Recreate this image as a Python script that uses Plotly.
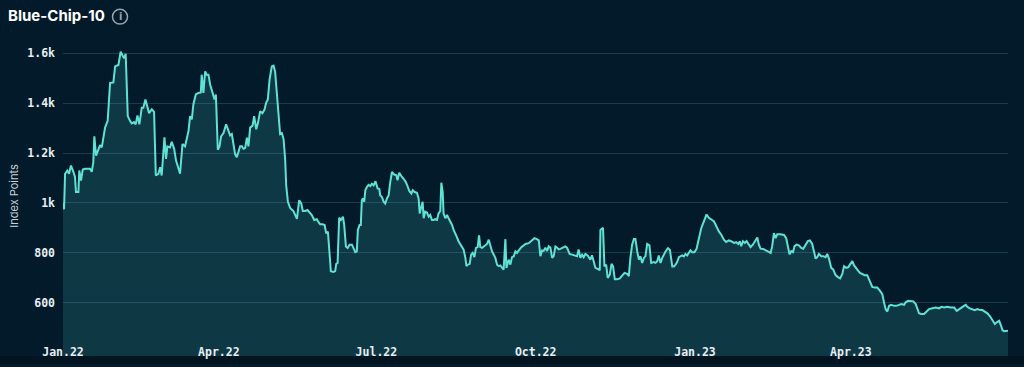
import pandas as pd
import plotly.graph_objects as go

# ---- data ----
start_date = "2022-01-01"
end_date = "2023-06-30 19:00"

days = [
    0.0, 0.6, 1.2, 2.5, 3.5, 4.6, 6.0, 6.9, 7.5, 8.9, 9.4, 10.4, 11.4, 12.7, 15.6, 16.6, 17.5, 18.1, 19.1, 20.4,
    21.4, 22.4, 23.3, 24.3, 25.8, 27.2, 29.1, 30.1, 32.0, 33.3, 34.5, 35.3, 36.2, 37.4, 38.7, 39.7, 41.0, 42.0,
    43.0, 44.1, 45.5, 46.4, 47.6, 48.7, 49.7, 51.3, 52.6, 53.6, 55.1, 56.1, 57.0, 58.6, 59.5, 60.3, 61.8, 62.8,
    64.2, 65.3, 66.7, 67.6, 69.0, 70.5, 72.5, 73.4, 74.4, 75.3, 76.7, 78.2, 79.6, 80.1, 81.1, 82.1, 83.0, 84.0,
    85.0, 86.3, 87.5, 88.3, 89.4, 90.4, 91.3, 92.7, 94.2, 95.6, 96.5, 97.5, 98.5, 99.4, 100.4, 101.3, 102.3,
    103.3, 104.2, 105.2, 106.2, 107.1, 108.1, 109.5, 110.4, 111.6, 112.5, 113.9, 115.2, 116.4, 117.3, 118.3,
    119.3, 120.6, 121.6, 122.5, 123.5, 124.5, 125.4, 126.4, 127.4, 128.3, 128.9, 129.9, 131.2, 133.1, 134.1,
    135.1, 136.4, 137.6, 138.5, 139.9, 141.2, 142.4, 143.7, 145.1, 146.6, 147.6, 148.5, 149.9, 151.1, 152.0,
    153.0, 154.0, 154.7, 156.3, 157.2, 157.8, 158.6, 159.5, 160.5, 161.1, 161.7, 162.4, 163.4, 164.4, 165.5,
    166.9, 167.8, 168.8, 169.7, 170.3, 171.3, 172.0, 172.6, 173.2, 174.0, 174.6, 175.5, 176.5, 177.5, 178.4,
    179.4, 180.5, 181.7, 182.7, 183.2, 184.2, 185.2, 186.1, 187.1, 188.1, 189.0, 190.0, 191.3, 192.5, 193.2,
    194.2, 195.4, 196.7, 197.7, 198.7, 200.0, 201.2, 202.0, 203.1, 204.4, 205.4, 206.0, 206.7, 207.7, 208.3,
    209.2, 210.2, 211.2, 212.1, 213.1, 214.1, 215.0, 216.0, 216.9, 217.9, 218.5, 219.3, 219.8, 220.8, 221.8,
    222.7, 223.7, 224.7, 225.6, 226.6, 227.5, 228.5, 229.5, 230.4, 231.4, 232.4, 233.0, 233.9, 234.9, 235.7,
    236.6, 237.6, 238.5, 239.5, 240.3, 241.0, 242.0, 243.0, 243.9, 244.9, 245.9, 246.8, 247.8, 248.8, 249.7,
    250.7, 251.7, 252.6, 253.6, 254.5, 255.5, 256.1, 257.4, 258.4, 259.3, 260.3, 261.3, 262.2, 263.6, 264.7,
    266.1, 267.1, 269.0, 270.9, 272.3, 273.4, 274.8, 275.7, 276.7, 277.6, 278.6, 279.6, 280.5, 281.5, 282.5,
    283.4, 284.4, 285.4, 286.3, 287.3, 288.8, 290.1, 291.1, 292.6, 294.0, 295.4, 296.9, 297.8, 298.8, 299.8,
    300.7, 301.7, 303.0, 304.6, 305.5, 306.5, 307.5, 309.4, 310.0, 310.4, 311.9, 312.7, 313.7, 314.6, 315.8,
    316.8, 317.7, 318.7, 320.0, 321.6, 322.9, 324.3, 325.8, 326.8, 327.7, 328.7, 329.7, 330.6, 331.6, 332.6,
    333.5, 334.5, 335.5, 336.4, 337.4, 338.7, 339.7, 341.2, 342.2, 343.2, 344.1, 345.1, 346.1, 347.0, 348.0,
    349.4, 350.5, 351.9, 352.8, 353.8, 354.7, 355.7, 357.6, 358.6, 359.5, 360.5, 361.5, 362.4, 363.4, 364.7,
    365.9, 367.3, 368.6, 370.1, 371.7, 373.0, 374.4, 375.9, 377.5, 378.8, 380.2, 381.7, 383.0, 384.6, 385.9,
    387.5, 388.8, 390.0, 390.9, 391.7, 392.7, 393.8, 394.8, 396.1, 397.1, 398.4, 400.0, 401.0, 401.9, 402.9,
    404.4, 405.8, 407.1, 408.7, 409.6, 410.6, 411.6, 412.5, 414.4, 416.4, 417.7, 418.7, 419.6, 420.6, 421.6,
    422.5, 423.7, 425.0, 426.4, 427.5, 428.9, 430.2, 431.4, 432.7, 433.7, 434.7, 435.6, 436.6, 437.9, 439.1,
    440.4, 441.4, 442.4, 443.7, 444.9, 446.2, 447.6, 448.8, 450.1, 451.1, 452.4, 453.6, 454.5, 455.9, 456.8,
    457.8, 459.1, 460.3, 461.7, 463.0, 464.5, 465.5, 466.5, 467.4, 468.8, 470.3, 471.9, 473.2, 474.2, 475.1,
    476.1, 477.1, 478.4, 480.0, 481.3, 482.9, 484.2, 485.8, 486.7, 488.1, 489.6, 491.1, 492.5, 493.4, 494.4,
    495.7, 497.3, 498.8, 500.2, 502.1, 504.0, 506.0, 507.3, 508.9, 510.8, 512.7, 514.7, 516.2, 517.5, 518.9,
    520.4, 521.4, 522.3, 523.7, 525.2, 526.6, 528.1, 529.7, 531.0, 532.4, 533.9, 535.5, 536.8, 538.2, 539.3,
    540.7, 541.6, 542.6, 543.5, 544.5, 545.8,
]

index_points = [
    1000, 975, 1117, 1130, 1117, 1150, 1125, 1104, 1044, 1044, 1130, 1090, 1134, 1137, 1137, 1125, 1163, 1267, 1190, 1215,
    1232, 1223, 1265, 1302, 1329, 1481, 1483, 1547, 1553, 1606, 1590, 1580, 1598, 1348, 1329, 1319, 1324, 1315,
    1351, 1315, 1382, 1382, 1415, 1390, 1360, 1375, 1365, 1110, 1117, 1143, 1110, 1263, 1177, 1227, 1223, 1245,
    1217, 1170, 1130, 1117, 1236, 1227, 1289, 1348, 1335, 1395, 1435, 1441, 1443, 1514, 1441, 1527, 1514, 1514,
    1474, 1441, 1415, 1435, 1213, 1227, 1267, 1280, 1315, 1289, 1271, 1276, 1236, 1196, 1183, 1203, 1227,
    1227, 1217, 1220, 1262, 1227, 1302, 1310, 1348, 1295, 1318, 1368, 1360, 1375, 1401, 1415,
    1494, 1547, 1550, 1527, 1441, 1335, 1276, 1280, 1255, 1177, 1071, 1005, 980, 968, 950,
    936, 1011, 998, 968, 968, 972, 962, 952, 932, 935, 923, 915, 915, 912, 879,
    885, 793, 727, 724, 727, 756, 760, 941, 932, 938, 945, 912, 826, 820, 833,
    833, 820, 803, 806, 892, 912, 912, 1011, 1018, 1005, 1051, 1064, 1073, 1068, 1077,
    1071, 1087, 1058, 1056, 1031, 1024, 1005, 998, 1018, 1031, 1084, 1124, 1114, 1111, 1091,
    1121, 1108, 1097, 1088, 1073, 1048, 1038, 1051, 1044, 1041, 1018, 958, 978, 1005, 939,
    965, 962, 945, 952, 932, 932, 935, 932, 958, 968, 1081, 1044, 958, 939, 952,
    939, 925, 912, 892, 879, 863, 846, 833, 820, 813, 780, 747, 753, 756, 793,
    800, 783, 820, 823, 870, 823, 820, 826, 830, 836, 853, 826, 806, 793, 780,
    753, 747, 750, 743, 733, 855, 740, 773, 753, 783, 786, 806, 800, 813, 823,
    830, 836, 839, 853, 859, 856, 850, 787, 810, 808, 821, 808, 826, 821, 780,
    787, 826, 821, 814, 816, 823, 826, 821, 796, 793, 790, 787, 814, 780, 793,
    783, 796, 790, 773, 790, 767, 740, 734, 730, 892, 901, 746, 753, 700, 713,
    756, 746, 694, 694, 698, 707, 720, 716, 707, 780, 833, 856, 856, 808, 773,
    787, 760, 780, 787, 836, 830, 760, 763, 760, 767, 790, 760, 780, 793, 806,
    819, 813, 746, 746, 753, 763, 783, 790, 786, 796, 790, 803, 810, 803, 803,
    816, 861, 899, 925, 954, 941, 935, 927, 905, 886, 873, 853, 844, 850, 847,
    840, 843, 836, 847, 827, 847, 840, 847, 836, 823, 833, 850, 862, 833, 817,
    816, 810, 806, 800, 827, 879, 859, 875, 875, 872, 859, 827, 794, 807, 803,
    827, 833, 830, 820, 817, 833, 847, 850, 836, 807, 777, 783, 796, 787, 787,
    783, 796, 777, 740, 733, 711, 703, 698, 716, 747, 740, 743, 753, 767, 751,
    740, 730, 720, 714, 711, 711, 694, 681, 664, 661, 661, 648, 635, 601, 575,
    565, 588, 592, 588, 588, 592, 595, 592, 602, 608, 606, 606, 595, 575, 558,
    555, 555, 565, 575, 578, 581, 578, 584, 581, 584, 581, 581, 568, 575, 581,
    588, 592, 584, 578, 575, 571, 575, 571, 571, 565, 558, 545, 531, 515, 522,
    528, 512, 491, 486, 488, 488,
]

tick_dates = ["2022-01-01", "2022-04-01", "2022-07-01", "2022-10-01", "2023-01-01", "2023-04-01"]
tick_labels = ["Jan.22", "Apr.22", "Jul.22", "Oct.22", "Jan.23", "Apr.23"]
y_ticks = [600, 800, 1000, 1200, 1400, 1600]
y_tick_labels = ["600", "800", "1k", "1.2k", "1.4k", "1.6k"]
y_range = [387, 1669]

dates = pd.Timestamp(start_date) + pd.to_timedelta(days, unit="D")

BG = "#031a2b"
LINE = "#5fe2d3"
GRID = "#1b3c50"

fig = go.Figure(
    go.Scatter(
        x=dates,
        y=index_points,
        mode="lines",
        line=dict(color=LINE, width=2),
        fill="tozeroy",
        fillcolor="rgba(80,205,200,0.17)",
        hoverinfo="skip",
    )
)

fig.update_layout(
    width=1024,
    height=367,
    margin=dict(l=63, r=16, t=36, b=8),
    paper_bgcolor=BG,
    plot_bgcolor=BG,
    showlegend=False,
    title=dict(
        text="<b>Blue-Chip-10</b>",
        x=8 / 1024,
        xanchor="left",
        xref="container",
        y=1 - 16 / 367,
        yanchor="middle",
        yref="container",
        font=dict(family="Inter", size=15, color="#ffffff"),
    ),
    xaxis=dict(
        type="date",
        range=[start_date, end_date],
        tickvals=tick_dates,
        ticktext=tick_labels,
        showgrid=False,
        zeroline=False,
        showline=False,
        ticks="",
        ticklabelposition="inside",
        ticklabeloverflow="allow",
        ticklabelstandoff=-5,
        tickfont=dict(family="DejaVu Sans Mono", size=11.5, color="#e8eef2", weight="bold"),
        fixedrange=True,
    ),
    yaxis=dict(
        range=y_range,
        tickvals=y_ticks,
        ticktext=y_tick_labels,
        showgrid=True,
        gridcolor=GRID,
        gridwidth=1,
        zeroline=False,
        showline=False,
        ticks="",
        ticklabelstandoff=7,
        tickfont=dict(family="DejaVu Sans Mono", size=11.5, color="#e8eef2", weight="bold"),
        title=dict(text="Index Points", standoff=6,
                   font=dict(family="Inter", size=11, color="#c9d1d7")),
        fixedrange=True,
    ),
    shapes=[
        dict(type="circle", xref="paper", yref="paper",
             x0=(112.5 - 63) / 945, x1=(127.5 - 63) / 945,
             y0=(359 - 24) / 323, y1=(359 - 9) / 323,
             line=dict(color="#9aa4ad", width=1.5)),
        dict(type="rect", xref="paper", yref="paper",
             x0=-63 / 945, x1=(1024 - 63) / 945, y0=-8 / 323, y1=0,
             fillcolor="#02141f", line=dict(width=0), layer="below"),
    ],
    annotations=[
        dict(text="<b>i</b>", xref="paper", yref="paper",
             x=(120 - 63) / 945, y=(359 - 16.5) / 323,
             xanchor="center", yanchor="middle", showarrow=False,
             font=dict(family="DejaVu Sans", size=10, color="#9aa4ad")),
    ],
)

fig.write_html(
    "out.html",
    config={"displayModeBar": False},
    post_script="document.body.style.margin='0';document.body.style.overflow='hidden';"
                "document.body.style.background='#031a2b';",
)
